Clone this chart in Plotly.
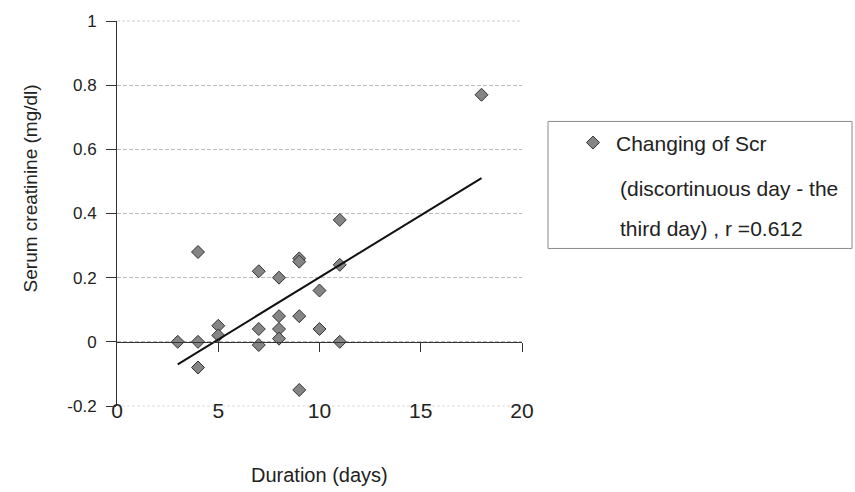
import numpy as np
import plotly.graph_objects as go

# ---- data ----
duration = [3, 4, 4, 4, 5, 5, 7, 7, 7, 8, 8, 8, 8, 9, 9, 9, 9, 10, 10, 11, 11, 11, 18]
scr_change = [0.0, 0.0, 0.28, -0.08, 0.05, 0.02, 0.22, 0.04, -0.01, 0.20, 0.08, 0.04, 0.01,
              0.26, 0.25, 0.08, -0.15, 0.16, 0.04, 0.24, 0.0, 0.38, 0.77]
series_name = "Changing of Scr"
legend_lines = ["(discortinuous day - the", "third day) , r =0.612"]
y_ticks = [-0.2, 0, 0.2, 0.4, 0.6, 0.8, 1]
y_ticktext = ["-0.2", "0", "0.2", "0.4", "0.6", "0.8", "1"]
x_ticks = [0, 5, 10, 15, 20]
x_ticktext = ["0", "5", "10", "15", "20"]

# linear trend
slope, intercept = np.polyfit(duration, scr_change, 1)
fit_x = [min(duration), max(duration)]
fit_y = [slope * v + intercept for v in fit_x]

FONT = "Liberation Sans, Arial, sans-serif"
W, H = 855, 492
L, R, T, B = 117, 333, 15, 86
pw, ph = W - L - R, H - T - B


def px(xp):
    return (xp - L) / pw


def py(yp):
    return (H - B - yp) / ph


fig = go.Figure()
fig.add_trace(go.Scatter(
    x=duration, y=scr_change, mode="markers", name=series_name,
    marker=dict(symbol="diamond", size=10, color="#858585",
                line=dict(color="#333333", width=1)),
    showlegend=True,
))
fig.add_trace(go.Scatter(
    x=fit_x, y=fit_y, mode="lines", xaxis="x2", yaxis="y",
    line=dict(color="#111111", width=2), showlegend=False,
))

edge_lines = [
    dict(type="line", xref="x domain", yref="y domain", x0=0, x1=1, y0=1, y1=1,
         line=dict(color="#cfcfcf", width=1, dash="3px,2px"), layer="below"),
    dict(type="line", xref="x domain", yref="y domain", x0=0, x1=1, y0=0, y1=0,
         line=dict(color="#dddddd", width=1, dash="3px,2px"), layer="below"),
]

fig.update_layout(
    width=W, height=H,
    margin=dict(l=L, r=R, t=T, b=B, pad=0),
    paper_bgcolor="white", plot_bgcolor="white",
    font=dict(family=FONT, color="#222222"),
    xaxis=dict(
        range=[0, 20], tickvals=x_ticks, ticktext=x_ticktext,
        showgrid=False, zeroline=False, showline=False, ticks="",
        tickfont=dict(size=21, color="#222222"),
        anchor="free", position=0.025,
    ),
    xaxis2=dict(
        matches="x", overlaying="x", anchor="free", position=0.2 / 1.2,
        showline=True, linecolor="#333333", linewidth=1,
        ticks="outside", ticklen=9, tickcolor="#333333",
        tickvals=x_ticks[1:], showticklabels=False,
        showgrid=False, zeroline=False,
    ),
    yaxis=dict(
        range=[-0.2, 1], tickvals=y_ticks, ticktext=y_ticktext,
        showgrid=True, gridcolor="#bdbdbd", griddash="4px,2px", gridwidth=1,
        zeroline=False, showline=True, linecolor="#333333", linewidth=1,
        ticks="outside", ticklen=10, tickcolor="#333333",
        ticklabelstandoff=6,
        tickfont=dict(size=17, color="#222222"),
    ),
    legend=dict(
        x=px(570), y=py(118), xanchor="left", yanchor="top",
        bgcolor="rgba(0,0,0,0)", borderwidth=0,
        font=dict(size=21, family=FONT, color="#222222"),
        itemwidth=36,
    ),
    shapes=[dict(
        type="rect", xref="paper", yref="paper",
        x0=px(548), x1=px(852), y0=py(246), y1=py(117),
        line=dict(color="#8a8a8a", width=1), fillcolor="rgba(0,0,0,0)",
    )] + edge_lines,
    annotations=[
        dict(text="Serum creatinine (mg/dl)", textangle=-90, xref="paper", yref="paper",
             x=px(30), y=py(185), xanchor="center", yanchor="middle", showarrow=False,
             font=dict(size=19, family=FONT, color="#222222")),
        dict(text="Duration (days)", xref="paper", yref="paper",
             x=px(319), y=py(476), xanchor="center", yanchor="middle", showarrow=False,
             font=dict(size=20, family=FONT, color="#222222")),
        dict(text=legend_lines[0], xref="paper", yref="paper",
             x=px(618), y=py(185), xanchor="left", yanchor="middle", showarrow=False,
             font=dict(size=21, family=FONT, color="#222222")),
        dict(text=legend_lines[1], xref="paper", yref="paper",
             x=px(618), y=py(226), xanchor="left", yanchor="middle", showarrow=False,
             font=dict(size=21, family=FONT, color="#222222")),
    ],
)

fig.write_html("out.html")
